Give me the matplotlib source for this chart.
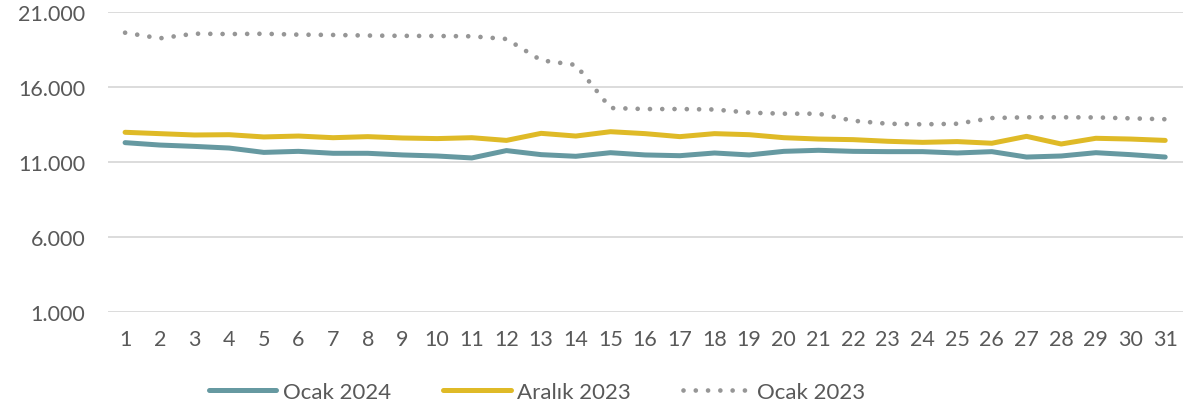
import matplotlib
matplotlib.use("Agg")
import matplotlib.pyplot as plt
from matplotlib.ticker import FuncFormatter

days = list(range(1, 32))
ocak_2024 = [12290, 12130, 12040, 11930, 11640, 11710, 11580, 11580, 11470, 11400,
             11270, 11760, 11490, 11380, 11620, 11470, 11420, 11600, 11470, 11710,
             11780, 11710, 11690, 11690, 11600, 11690, 11330, 11400, 11620, 11490, 11330]
aralik_2023 = [12980, 12890, 12800, 12820, 12670, 12730, 12620, 12690, 12600, 12560,
               12620, 12440, 12910, 12730, 13020, 12890, 12690, 12890, 12820, 12620,
               12530, 12490, 12380, 12310, 12360, 12250, 12710, 12200, 12580, 12530, 12440]
ocak_2023 = [19620, 19245, 19555, 19530, 19550, 19490, 19470, 19430, 19410, 19400,
             19380, 19200, 17780, 17470, 14600, 14530, 14530, 14500, 14290, 14220,
             14220, 13750, 13550, 13510, 13550, 13930, 13980, 13980, 13970, 13910, 13850]
series_labels = ["Ocak 2024", "Aralık 2023", "Ocak 2023"]
y_ticks = [1000, 6000, 11000, 16000, 21000]

plt.rcParams['font.family'] = ['Lato', 'DejaVu Sans']
text_color = "#595959"

fig = plt.figure(figsize=(11.88, 4.14), dpi=100)
ax = fig.add_axes([0.0907, 0.2440, 0.9047, 0.7246])

ax.plot(days, ocak_2024, color="#6699A1", lw=3.6, solid_capstyle="round",
        solid_joinstyle="round", label=series_labels[0])
ax.plot(days, aralik_2023, color="#DFBA27", lw=3.6, solid_capstyle="round",
        solid_joinstyle="round", label=series_labels[1])
ax.plot(days, ocak_2023, color="#969696", lw=3.4, dash_capstyle="round",
        dashes=(0.001, 2.6), label=series_labels[2])

ax.set_ylim(1000, 21000)
ax.set_xlim(0.5, 31.5)
ax.set_yticks(y_ticks)
ax.yaxis.set_major_formatter(FuncFormatter(lambda v, p: f"{int(v):,}".replace(",", ".")))
ax.set_xticks(days)
ax.set_xticklabels([str(d) for d in days])
ax.grid(axis="y", color="#D9D9D9", lw=1.3)
ax.set_axisbelow(True)
for s in ax.spines.values():
    s.set_visible(False)
ax.tick_params(axis="both", length=0, labelsize=15.5, labelcolor=text_color)
ax.tick_params(axis="y", pad=16)
ax.tick_params(axis="x", pad=12)

leg = fig.legend(loc="center", bbox_to_anchor=(537 / 1188, 1 - 393 / 414), ncol=3,
                 frameon=False, fontsize=16, handlelength=3.05, handletextpad=0.3,
                 columnspacing=2.33, labelcolor=text_color)

fig.savefig("out.png", dpi=100)
